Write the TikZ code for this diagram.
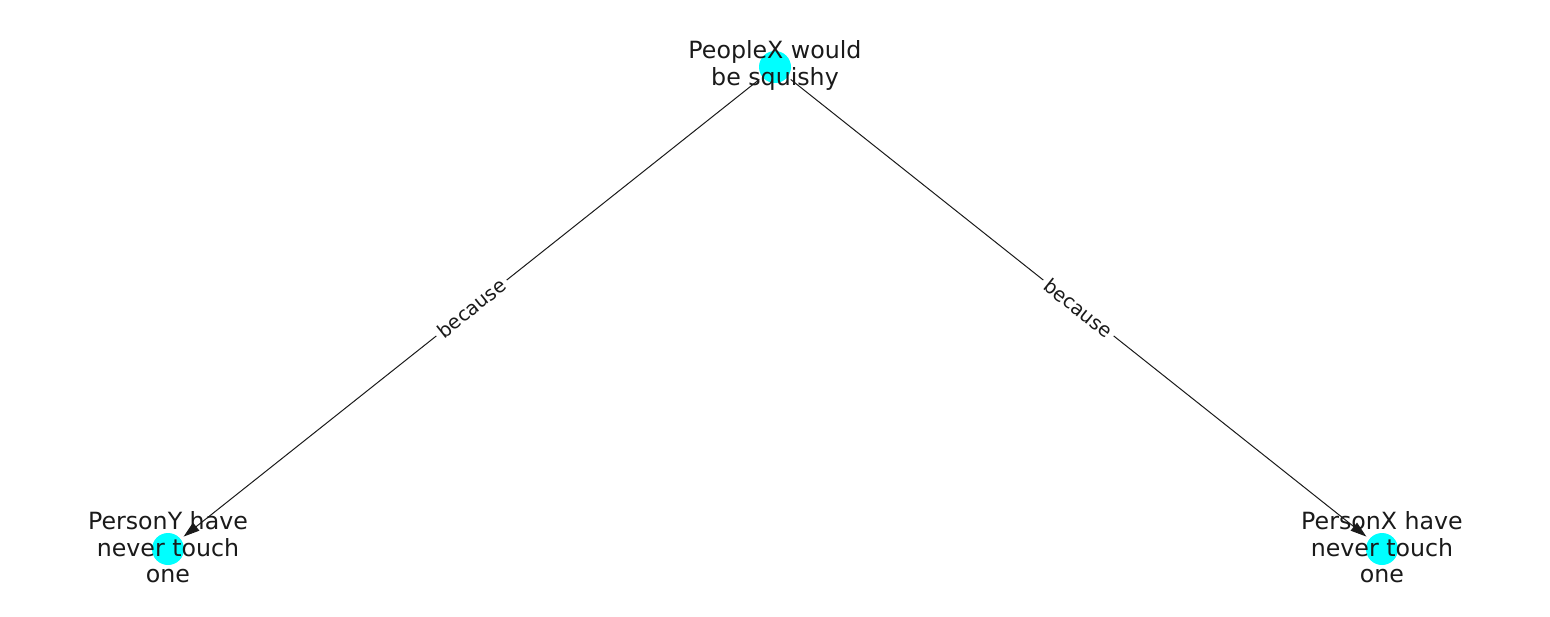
\documentclass[tikz,border=0pt]{standalone}
\usepackage{fontspec}
\setmainfont{DejaVu Sans}
\usetikzlibrary{arrows.meta}
\definecolor{nodecyan}{HTML}{00FFFF}
\definecolor{ink}{HTML}{1A1A1A}
\tikzset{
  dot/.style={circle, fill=nodecyan, draw=none, minimum size=32pt, inner sep=0pt, outer sep=4pt},
  lbl/.style={align=center, text=ink, font=\fontsize{23.7}{26.5}\selectfont, inner sep=0pt},
  edge/.style={draw=ink, line width=1pt, -{Triangle[length=16pt,width=10pt]}},
  elbl/.style={fill=white, text=ink, font=\fontsize{19.5}{22}\selectfont, inner sep=4pt, sloped, midway}
}
\begin{document}
\begin{tikzpicture}[x=1pt,y=-1pt]
\useasboundingbox (0,0) rectangle (1550,616);
\node[dot] (top) at (775,67) {};
\node[dot] (bl) at (168,549) {};
\node[dot] (br) at (1382,549) {};
\draw[edge] (top) -- node[elbl] {because} (bl);
\draw[edge] (top) -- node[elbl] {because} (br);
\node[lbl] (ttop) at (775,65.5) {PeopleX would\\be squishy};
\node[lbl] (tbl) at (168,547.5) {PersonY have\\never touch\\one};
\node[lbl] (tbr) at (1382,547.5) {PersonX have\\never touch\\one};
\end{tikzpicture}
\end{document}
